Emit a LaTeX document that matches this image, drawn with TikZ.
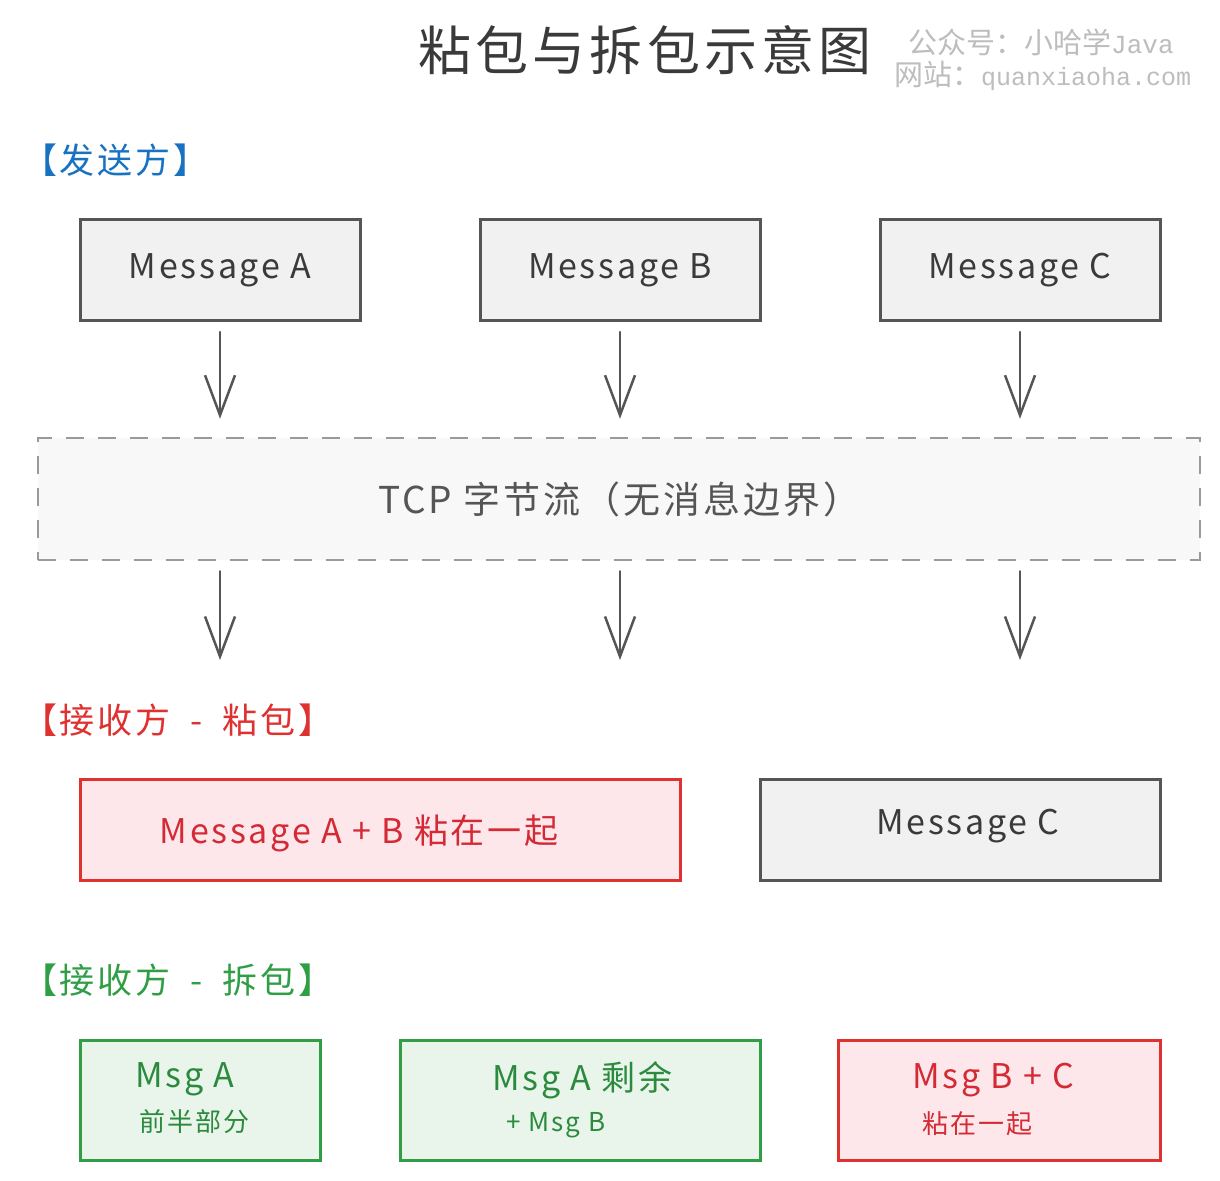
\documentclass[tikz,border=0pt]{standalone}
\usepackage{fontspec}
\setmainfont{Noto Sans CJK SC}
\newfontfamily\hand[LetterSpace=8]{Noto Sans CJK SC}
\newfontfamily\wmfont{Noto Sans CJK SC}
\newfontfamily\wmlatin{Liberation Mono}
\usetikzlibrary{arrows.meta}
\definecolor{ink}{HTML}{3A3A3A}
\definecolor{grayline}{HTML}{555555}
\definecolor{grayfill}{HTML}{F1F1F1}
\definecolor{dashline}{HTML}{9A9A9A}
\definecolor{dashfill}{HTML}{F8F8F8}
\definecolor{redline}{HTML}{E03131}
\definecolor{redfill}{HTML}{FDE7EA}
\definecolor{redtext}{HTML}{D42A35}
\definecolor{greenline}{HTML}{2F9E44}
\definecolor{greenfill}{HTML}{E9F5EA}
\definecolor{greentext}{HTML}{2B8A3E}
\definecolor{bluetext}{HTML}{1971C2}
\definecolor{wmgray}{HTML}{BDBDBD}
\newcommand{\fs}[1]{\fontsize{#1}{#1}\selectfont}
\tikzset{
  graybox/.style={draw=grayline, fill=grayfill, line width=3pt, inner sep=0pt, text=ink},
  redbox/.style={draw=redline, fill=redfill, line width=3pt, inner sep=0pt, text=redtext},
  greenbox/.style={draw=greenline, fill=greenfill, line width=3pt, inner sep=0pt, text=greentext},
  tcpbox/.style={draw=dashline, fill=dashfill, line width=2.5pt, dash pattern=on 18pt off 14pt, inner sep=0pt, text=grayline},
  msgtext/.style={font=\hand\fs{34}},
  smalltext/.style={font=\hand\fs{26}},
  sect/.style={font=\hand\fs{35}, anchor=west, inner sep=0pt},
  arr/.style={draw=grayline, line width=2.5pt, line cap=round,
    -{Straight Barb[length=40pt,width=30pt,line width=2.5pt]}},
}
\begin{document}
\begin{tikzpicture}[x=1pt,y=-1pt]
\useasboundingbox[fill=white] (0,0) rectangle (1220,1180);

% title and watermark
\node[text=ink, font=\hand\fs{53}] (title) at (645,50) {粘包与拆包示意图};
\node[text=wmgray, anchor=west, inner sep=0pt] (wm1) at (908,42) {\wmfont\fs{29}公众号：小哈学\wmlatin\fs{26}Java};
\node[text=wmgray, anchor=west, inner sep=0pt] (wm2) at (894,76) {\wmfont\fs{29}网站：\wmlatin\fs{25}quanxiaoha.com};

% sender
\node[sect, text=bluetext] (send) at (22,160) {【发送方】};
\node[graybox, msgtext, minimum width=280pt, minimum height=101pt] (A) at (220,270) {Message A};
\node[graybox, msgtext, minimum width=280pt, minimum height=101pt] (B) at (620,270) {Message B};
\node[graybox, msgtext, minimum width=280pt, minimum height=101pt] (C) at (1020,270) {Message C};

% tcp stream
\node[tcpbox, minimum width=1162pt, minimum height=122pt, font=\hand\fs{37}] (tcp) at (619,499) {TCP 字节流（无消息边界）};

\draw[arr, shorten <=10pt, shorten >=18pt] (A.south) -- (A.south |- tcp.north);
\draw[arr, shorten <=10pt, shorten >=18pt] (B.south) -- (B.south |- tcp.north);
\draw[arr, shorten <=10pt, shorten >=18pt] (C.south) -- (C.south |- tcp.north);

\coordinate (e1) at (220,660);
\coordinate (e2) at (620,660);
\coordinate (e3) at (1020,660);
\draw[arr, shorten <=10pt] (tcp.south -| e1) -- (e1);
\draw[arr, shorten <=10pt] (tcp.south -| e2) -- (e2);
\draw[arr, shorten <=10pt] (tcp.south -| e3) -- (e3);

% receiver: sticky
\node[sect, text=redline] (stick) at (22,720) {【接收方\hspace{20pt}-\hspace{20pt}粘包】};
\node[redbox, minimum width=600pt, minimum height=101pt] (AB) at (380,830) {};
\node[msgtext, text=redtext] (ABt) at (359,833) {Message A + B 粘在一起};
\node[graybox, minimum width=400pt, minimum height=101pt] (C2) at (960,830) {};
\node[msgtext, text=ink] (C2t) at (968,826) {Message C};

% receiver: split
\node[sect, text=greenline] (split) at (22,980) {【接收方\hspace{20pt}-\hspace{20pt}拆包】};
\node[greenbox, minimum width=240pt, minimum height=120pt] (G1) at (200,1100) {};
\node[msgtext, text=greentext, anchor=west, inner sep=0pt] (G1a) at (135,1079) {Msg A};
\node[smalltext, text=greentext, anchor=west, inner sep=0pt] (G1b) at (139,1122) {前半部分};
\node[greenbox, minimum width=360pt, minimum height=120pt] (G2) at (580,1100) {};
\node[msgtext, text=greentext, anchor=west, inner sep=0pt] (G2a) at (492,1080) {Msg A 剩余};
\node[smalltext, text=greentext, anchor=west, inner sep=0pt] (G2b) at (506,1125) {+ Msg B};
\node[redbox, minimum width=322pt, minimum height=120pt] (R3) at (999,1100) {};
\node[msgtext, text=redtext, anchor=west, inner sep=0pt] (R3a) at (912,1080) {Msg B + C};
\node[smalltext, text=redtext, anchor=west, inner sep=0pt] (R3b) at (922,1124) {粘在一起};
\end{tikzpicture}
\end{document}
